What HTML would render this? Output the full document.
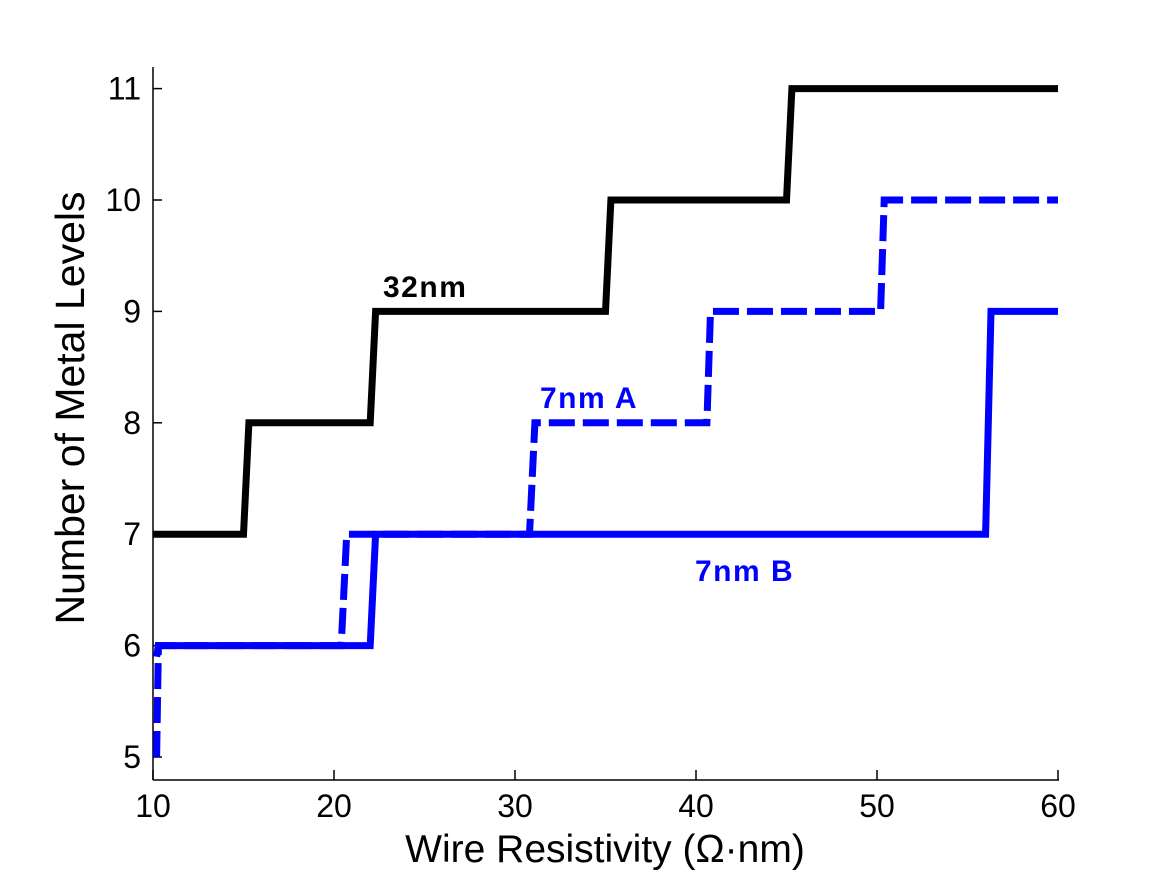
<!DOCTYPE html>
<html><head><meta charset="utf-8"><style>
body{margin:0;background:#fff;width:1170px;height:877px;overflow:hidden}
svg text{font-family:"Liberation Sans",sans-serif}
</style></head><body>
<svg id="chart" width="1170" height="877" viewBox="0 0 1170 877" xmlns="http://www.w3.org/2000/svg">
<g id="axes"></g>
<g id="series"></g>
<text x="383" y="297" font-size="30" font-weight="bold" letter-spacing="1.5" fill="#000">32nm</text>
<text x="540" y="408" font-size="30" font-weight="bold" letter-spacing="1.5" fill="#0000ff">7nm A</text>
<text x="695" y="581" font-size="30" font-weight="bold" letter-spacing="1.5" fill="#0000ff">7nm B</text>
<text x="605" y="862" font-size="39" text-anchor="middle">Wire Resistivity (Ω·nm)</text>
<text transform="translate(84,408) rotate(-90)" font-size="41" text-anchor="middle">Number of Metal Levels</text>
</svg>
<script>
const xTicks=[10,20,30,40,50,60];
const yTicks=[5,6,7,8,9,10,11];
const s32x=[10,15,15.3,22,22.3,35,35.3,45,45.3,60];
const s32y=[7,7,8,8,9,9,10,10,11,11];
const sAx=[10.2,10.3,20.4,20.7,30.8,31.1,40.6,40.8,50.2,50.4,60];
const sAy=[5,6,6,7,7,8,8,9,9,10,10];
const sBx=[10.2,10.3,22,22.3,56,56.3,60];
const sBy=[5.9,6,6,7,7,9,9];
const X=v=>153+(v-10)*18.1;
const Y=v=>757-(v-5)*111.4;
const NS="http://www.w3.org/2000/svg";
const axes=document.getElementById('axes'),ser=document.getElementById('series');
function mk(tag,attrs,parent){const e=document.createElementNS(NS,tag);for(const k in attrs)e.setAttribute(k,attrs[k]);parent.appendChild(e);return e;}
let l=mk('line',{x1:153,y1:780,x2:153,y2:67,stroke:'#000','stroke-width':1.5},axes);


l=mk('line',{x1:153,y1:780,x2:1059,y2:780,stroke:'#000','stroke-width':1.5},axes);


xTicks.forEach(t=>{
 const tk=mk('line',{x1:X(t),y1:780,x2:X(t),y2:770,stroke:'#000','stroke-width':1.5},axes);
 
 
 const tx=mk('text',{x:X(t),y:817,'font-size':32,'text-anchor':'middle'},axes);
 tx.textContent=t;
 
 
});
yTicks.forEach(t=>{
 const tk=mk('line',{x1:153,y1:Y(t),x2:162,y2:Y(t),stroke:'#000','stroke-width':1.5},axes);
 
 
 const tx=mk('text',{x:141,y:Y(t)+11,'font-size':32,'text-anchor':'end'},axes);
 tx.textContent=t;
 
 
});
function path(xs,ys,color,dash,name){
 const d=xs.map((v,i)=>(i?'L':'M')+X(v).toFixed(1)+' '+Y(ys[i]).toFixed(1)).join(' ');
 const p=mk('path',{d:d,fill:'none',stroke:color,'stroke-width':7,'stroke-linejoin':'miter'},ser);
 if(dash)p.setAttribute('stroke-dasharray',dash);
 
 
}
path(sBx,sBy,'#0000ff',null,'series-7nm-b');
path(sAx,sAy,'#0000ff','26 8','series-7nm-a');
path(s32x,s32y,'#000000',null,'series-32nm');
</script>
</body></html>
